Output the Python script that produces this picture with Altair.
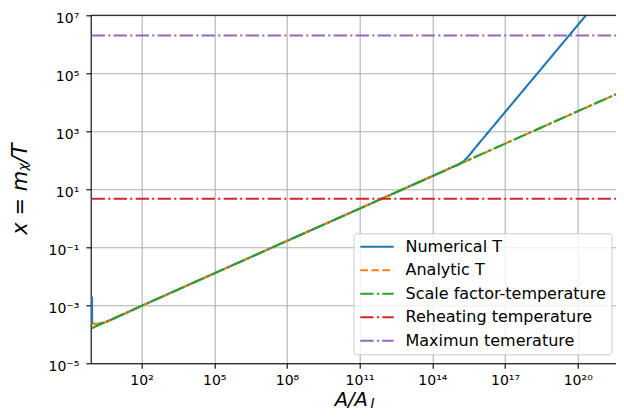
import altair as alt
import pandas as pd

# ---------------- data ----------------
series_names = ["Numerical T", "Analytic T", "Scale factor-temperature",
                "Reheating temperature", "Maximun temerature"]
series_colors = ["#1f77b4", "#ff7f0e", "#2ca02c", "#d62728", "#9467bd"]
series_dashes = [[1, 0], [7.7, 3.3], [13.3, 3.3, 2.1, 3.3],
                 [13.3, 3.3, 2.1, 3.3], [13.3, 3.3, 2.1, 3.3]]

# log10(A/A_I) and log10(x) of each curve
numerical_log10_A = [-0.045, -0.04, 0.17, 0.45, 0.8, 1.2, 2, 5, 8, 11, 14, 15.0,
                     15.15, 15.3, 15.5, 15.8, 16.4, 17.5, 18.5, 19.5, 20.34, 20.8]
numerical_log10_x = [-2.70, -3.63, -3.645, -3.60, -3.48, -3.33, -3.02, -1.90, -0.78,
                     0.335, 1.454, 1.83, 1.89, 1.97, 2.15, 2.46, 3.06, 4.16, 5.16,
                     6.16, 7.0, 7.46]

analytic_log10_A = [-0.04, 0.17, 0.45, 0.8, 1.2, 2, 5, 8, 11, 14, 17, 20, 22.5]
analytic_log10_x = [-3.64, -3.645, -3.60, -3.48, -3.33, -3.02, -1.90, -0.78,
                    0.335, 1.454, 2.573, 3.69, 4.62]

scale_log10_A = [-0.06, 2, 5, 8, 11, 14, 17, 20, 22.5]
scale_log10_x = [-3.79, -3.02, -1.90, -0.78, 0.335, 1.454, 2.573, 3.69, 4.62]

hline_log10_A = [-0.06, 22.5]
reheating_x = 4.75
maximum_x = 2.0e6

x_tick_exponents = [2, 5, 8, 11, 14, 17, 20]
y_tick_exponents = [-5, -3, -1, 1, 3, 5, 7]
x_domain_log10 = [-0.099, 21.58]
y_domain_log10 = [-5, 7]

# ---------------- table ----------------
rows = []
def add(name, la, lx):
    for i, (a, v) in enumerate(zip(la, lx)):
        rows.append({"series": name, "A": 10 ** a, "x": 10 ** v, "order": i})

add(series_names[0], numerical_log10_A, numerical_log10_x)
add(series_names[1], analytic_log10_A, analytic_log10_x)
add(series_names[2], scale_log10_A, scale_log10_x)
for i, a in enumerate(hline_log10_A):
    rows.append({"series": series_names[3], "A": 10 ** a, "x": reheating_x, "order": i})
for i, a in enumerate(hline_log10_A):
    rows.append({"series": series_names[4], "A": 10 ** a, "x": maximum_x, "order": i})
df = pd.DataFrame(rows)

SUP = str.maketrans("0123456789-", "⁰¹²³⁴⁵⁶⁷⁸⁹⁻")
def label_expr(exps):
    s = ""
    for e in exps:
        s += f"round(log(datum.value)/LN10) == {e} ? '10{str(e).translate(SUP)}' : "
    return s + "''"

W, H = 525.3, 348

x_enc = alt.X("A:Q",
              scale=alt.Scale(type="log", domain=[10 ** d for d in x_domain_log10], nice=False),
              axis=alt.Axis(values=[10 ** e for e in x_tick_exponents],
                            labelExpr=label_expr(x_tick_exponents),
                            labelBaseline="alphabetic", labelPadding=16.6,
                            title=None))
y_enc = alt.Y("x:Q",
              scale=alt.Scale(type="log", domain=[10 ** d for d in y_domain_log10], nice=False),
              axis=alt.Axis(values=[10 ** e for e in y_tick_exponents],
                            labelExpr=label_expr(y_tick_exponents),
                            labelBaseline="alphabetic", labelOffset=6.7, labelPadding=7,
                            title="x = mᵪ/T", titleX=-64, titleY=173.2, titleAngle=270,
                            titleAlign="center", titleBaseline="alphabetic",
                            titleFont="DejaVu Sans", titleFontStyle="italic",
                            titleFontSize=21, titleFontWeight="normal", titleColor="black"))

legend = alt.Legend(title=None, orient="none", legendX=262.8, legendY=218,
                    symbolType="stroke", symbolSize=1115, symbolStrokeWidth=2.1,
                    clipHeight=16, labelFontSize=16, labelFont="DejaVu Sans",
                    labelColor="black", labelOffset=10.5, rowPadding=7.5, padding=5.5,
                    fillColor="rgba(255,255,255,0.8)", strokeColor="#cccccc",
                    cornerRadius=3, labelLimit=400)

color_enc = alt.Color("series:N", scale=alt.Scale(domain=series_names, range=series_colors),
                      legend=legend)
dash_enc = alt.StrokeDash("series:N", scale=alt.Scale(domain=series_names, range=series_dashes),
                          legend=legend)

base = alt.Chart(df)
layers = []
for name in series_names:
    layers.append(
        base.transform_filter(alt.datum.series == name)
        .mark_line(clip=True, strokeWidth=2.1)
        .encode(x=x_enc, y=y_enc, color=color_enc, strokeDash=dash_enc,
                order=alt.Order("order:Q"))
    )

dummy = pd.DataFrame({"d": [0]})
top_rule = alt.Chart(dummy).mark_rule(color="black", strokeWidth=1.1).encode(
    x=alt.value(0), x2=alt.value(W), y=alt.value(0))
xt1 = alt.Chart(dummy).mark_text(text="A/A", font="DejaVu Sans", fontStyle="italic",
                                 fontSize=19.5, align="left", baseline="alphabetic",
                                 color="black").encode(x=alt.value(244.0), y=alt.value(391.0))
xt2 = alt.Chart(dummy).mark_text(text="I", font="DejaVu Sans", fontStyle="italic",
                                 fontSize=13.5, align="left", baseline="alphabetic",
                                 color="black").encode(x=alt.value(279.8), y=alt.value(392.4))

chart = (
    alt.layer(*layers, top_rule, xt1, xt2)
    .properties(width=W, height=H, autosize=alt.AutoSizeParams(type="none"),
                padding={"left": 82.7, "top": 7.3, "right": 0, "bottom": 47.7})
    .configure_view(stroke=None)
    .configure_axis(domainColor="black", domainWidth=1.1, tickColor="black",
                    tickWidth=1.1, tickSize=4.9, labelFont="DejaVu Sans",
                    labelFontSize=14, labelColor="black", grid=True,
                    gridColor="#b0b0b0", gridWidth=1.1, gridOpacity=1)
)

chart.save("out.html", embed_options={"renderer": "svg", "actions": False})
